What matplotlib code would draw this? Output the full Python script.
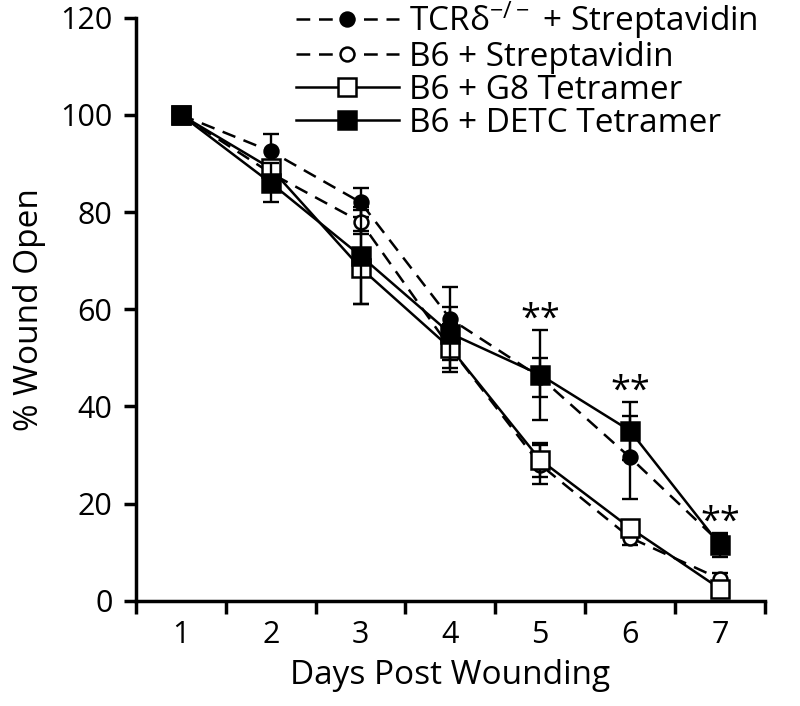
import matplotlib.pyplot as plt
import numpy as np

plt.rcParams['font.family'] = ['Open Sans', 'DejaVu Sans']
plt.rcParams['mathtext.fontset'] = 'custom'
plt.rcParams['mathtext.rm'] = 'Open Sans'
plt.rcParams['mathtext.it'] = 'Open Sans'

days = np.array([1, 2, 3, 4, 5, 6, 7])

# series values (% wound open) and error bars
tcr_strep = np.array([100, 92.5, 82, 58, 46, 29.5, 12])
tcr_err = np.array([0, 3.5, 3, 6.5, 4, 8.5, 1.5])
b6_strep = np.array([100, 88, 78, 52, 28, 13, 4.5])
b6_strep_err = np.array([0, 2, 2.5, 5, 4, 1.5, 1.2])
b6_g8 = np.array([100, 89, 68.5, 52, 29, 15, 2.5])
b6_g8_err = np.array([0, 1.5, 7.5, 4, 3.5, 1, 0.5])
b6_detc = np.array([100, 86, 71, 55, 46.5, 35, 11.5])
b6_detc_err = np.array([0, 4, 10, 5.5, 9.3, 6, 2.5])

labels = [r"TCR$\mathrm{\delta}^{\mathrm{-/-}}$ + Streptavidin", "B6 + Streptavidin",
          "B6 + G8 Tetramer", "B6 + DETC Tetramer"]
star_days = [5, 6, 7]

fig = plt.figure(figsize=(8, 7.06), dpi=100)
ax = fig.add_axes([0.17, 0.149, 0.786, 0.826])

series = [
    (tcr_strep, tcr_err, 'o', (0, (5.5, 3.5)), 'black', 10),
    (b6_strep, b6_strep_err, 'o', (0, (5.5, 3.5)), 'white', 10),
    (b6_g8, b6_g8_err, 's', '-', 'white', 13),
    (b6_detc, b6_detc_err, 's', '-', 'black', 13),
]
for (vals, err, mk, ls, fc, ms), lab in zip(series, labels):
    ax.errorbar(days, vals, yerr=err, fmt='none', ecolor='black',
                elinewidth=1.7, capsize=6, capthick=1.7)
    ax.plot(days, vals, marker=mk, ls=ls, color='black', lw=1.8, ms=ms,
            mfc=fc, mec='black', mew=1.8, label=lab)

for d in star_days:
    i = d - 1
    ax.text(d, b6_detc[i] + b6_detc_err[i] + 2, "**", ha='center', va='center',
            fontsize=26)

ax.set_xlim(0.5, 7.5)
ax.set_ylim(0, 120)
ax.set_xticks(np.arange(0.5, 8, 1))
ax.set_xticklabels([])
ax.set_xticks(days, minor=True)
ax.set_xticklabels([str(d) for d in days], minor=True)
ax.tick_params(axis='x', which='minor', length=0, labelsize=22, pad=14)
ax.tick_params(axis='x', which='major', length=9, width=2.5)
ax.set_yticks(np.arange(0, 121, 20))
ax.tick_params(axis='y', length=9, width=2.5, labelsize=22, pad=8)
for s in ['top', 'right']:
    ax.spines[s].set_visible(False)
for s in ['left', 'bottom']:
    ax.spines[s].set_linewidth(2.5)

ax.set_xlabel("Days Post Wounding", fontsize=24, labelpad=6)
ax.set_ylabel("% Wound Open", fontsize=24, labelpad=10)

leg = ax.legend(loc='upper right', bbox_to_anchor=(1.01, 1.055), frameon=False,
                fontsize=24, handlelength=3.1, handletextpad=0.3,
                labelspacing=0.0, borderaxespad=0)

fig.savefig("out.png", dpi=100)
